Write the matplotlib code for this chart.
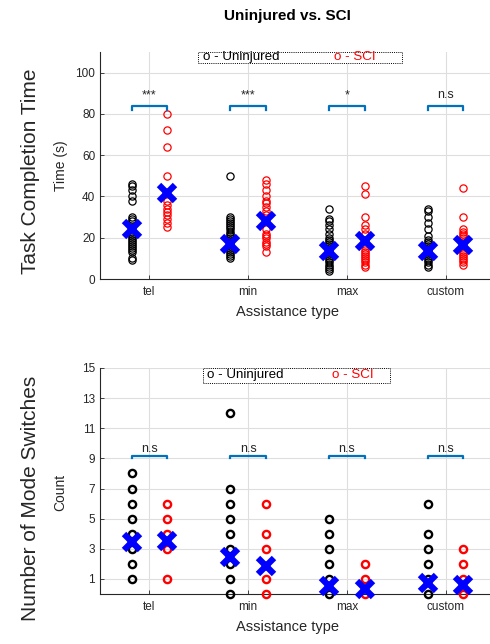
import numpy as np
import matplotlib
matplotlib.use("Agg")
import matplotlib.pyplot as plt
from matplotlib.patches import Rectangle

plt.rcParams["font.family"] = ["Liberation Sans", "DejaVu Sans"]

categories = ["tel", "min", "max", "custom"]

# task completion time (s)
time_uninjured = [
    [9, 10, 13, 14, 15, 16, 17, 18, 19, 20, 21, 22, 23, 25, 28, 29, 30, 38, 40, 43, 45, 46],
    [10, 11, 12, 13, 14, 15, 16, 17, 18, 19, 20, 21, 22, 23, 24, 25, 26, 27, 28, 29, 30, 50],
    [4, 5, 6, 7, 8, 9, 10, 11, 12, 13, 14, 15, 16, 17, 18, 19, 20, 22, 24, 26, 28, 29, 34],
    [6, 7, 8, 9, 10, 11, 12, 13, 14, 15, 16, 17, 18, 19, 21, 24, 27, 30, 33, 34],
]
time_sci = [
    [25, 27, 29, 31, 32.5, 34, 36, 38, 50, 64, 72, 80],
    [13, 16, 17, 18, 20, 21, 22, 24, 31, 33, 35, 37, 38, 40, 43, 46, 48],
    [6, 7, 8, 9, 10, 11, 12, 13, 14, 16, 19, 22, 24, 26, 30, 41, 45],
    [7, 8, 9, 10, 11, 12, 13, 14, 16, 18, 20, 21, 22, 23, 24, 30, 44],
]
time_mean_uninjured = [24.1, 17.2, 13.7, 13.5]
time_mean_sci = [41.7, 28.0, 18.4, 16.7]
time_sig = ["***", "***", "*", "n.s"]

# number of mode switches
switch_uninjured = [
    [1, 2, 3, 4, 5, 6, 7, 8],
    [0, 1, 2, 3, 4, 5, 6, 7, 12],
    [0, 1, 2, 3, 4, 5],
    [0, 1, 2, 3, 4, 6],
]
switch_sci = [
    [1, 3, 4, 5, 6],
    [0, 1, 3, 4, 6],
    [0, 1, 2],
    [0, 1, 2, 3],
]
switch_mean_uninjured = [3.45, 2.45, 0.55, 0.75]
switch_mean_sci = [3.55, 1.85, 0.3, 0.6]
switch_sig = ["n.s", "n.s", "n.s", "n.s"]

BLUE = (0.0, 0.447, 0.741)
GRID = (0.87, 0.87, 0.87)
AXC = (0.15, 0.15, 0.15)
OFF = 0.36


def _panel(ax, unj, sci, m_unj, m_sci, sig, *, ylim, yticks, br_y, br_leg, txt_y,
           circ_lw, leg_box, leg_x):
    xs = np.arange(1, len(categories) + 1)
    for i, x in enumerate(xs):
        xu, xsci = x - OFF / 2, x + OFF / 2
        ax.plot(np.full(len(unj[i]), xu), unj[i], "o", ms=5.2, mfc="none", mec="k",
                mew=circ_lw, clip_on=False, zorder=3)
        ax.plot(np.full(len(sci[i]), xsci), sci[i], "o", ms=5.2, mfc="none", mec="r",
                mew=circ_lw, clip_on=False, zorder=3)
        ax.plot([xu, xsci], [m_unj[i], m_sci[i]], "x", ms=12, mew=4.5, color="b",
                ls="none", clip_on=False, zorder=4)
        ax.plot([xu, xu, xsci, xsci], [br_y - br_leg, br_y, br_y, br_y - br_leg],
                color=BLUE, lw=1.6, zorder=3)
        ax.text(x, txt_y, sig[i], ha="center", va="center", fontsize=9, color=AXC)

    ax.set_xlim(0.5, 4.5)
    ax.set_ylim(*ylim)
    ax.set_xticks(xs)
    ax.set_xticklabels(categories)
    ax.set_yticks(yticks)
    ax.grid(True, color=GRID, lw=0.8)
    ax.set_axisbelow(True)
    ax.tick_params(direction="in", length=3, colors=AXC, labelsize=8.5, width=0.6)
    ax.tick_params(axis="x", pad=5)
    for s in ("top", "right"):
        ax.spines[s].set_visible(False)
    for s in ("left", "bottom"):
        ax.spines[s].set_color(AXC)
        ax.spines[s].set_linewidth(0.8)

    x0, y0, x1, y1 = leg_box
    ax.add_patch(Rectangle((x0, y0), x1 - x0, y1 - y0, transform=ax.transAxes,
                           facecolor="white", edgecolor="k", ls=(0, (1, 1.2)),
                           lw=0.7, zorder=5, clip_on=False))
    ym = (y0 + y1) / 2
    ax.text(leg_x[0], ym, "o - Uninjured", transform=ax.transAxes, ha="left",
            va="center", fontsize=9.6, color="k", zorder=6)
    ax.text(leg_x[1], ym, "o - SCI", transform=ax.transAxes, ha="left",
            va="center", fontsize=9.6, color="r", zorder=6)

    ax.set_xlabel("Assistance type", fontsize=10.5, color=AXC)
    ax.xaxis.set_label_coords(0.475, -0.115)


fig = plt.figure(figsize=(4.9, 6.44), dpi=100)
W, H = 490.0, 644.0
ax_l = 100 / W
ax_w = 395 / W

ax1 = fig.add_axes([ax_l, 1 - 279 / H, ax_w, 227 / H])
_panel(ax1, time_uninjured, time_sci, time_mean_uninjured, time_mean_sci, time_sig,
       ylim=(0, 110), yticks=[0, 20, 40, 60, 80, 100], br_y=84, br_leg=2, txt_y=89,
       circ_lw=0.9, leg_box=(0.248, 0.952, 0.765, 1.0), leg_x=(0.262, 0.592))
ax1.set_ylabel("Time (s)", fontsize=10, color=AXC)
ax1.yaxis.set_label_coords(-0.082, 0.5)

ax2 = fig.add_axes([ax_l, 1 - 594 / H, ax_w, 226 / H])
_panel(ax2, switch_uninjured, switch_sci, switch_mean_uninjured, switch_mean_sci, switch_sig,
       ylim=(0, 15), yticks=[1, 3, 5, 7, 9, 11, 13, 15], br_y=9.15, br_leg=0.15, txt_y=9.6,
       circ_lw=1.7, leg_box=(0.261, 0.935, 0.734, 1.0), leg_x=(0.272, 0.588))
ax2.set_ylabel("Count", fontsize=10, color=AXC)
ax2.yaxis.set_label_coords(-0.082, 0.45)

fig.text(287 / W, 1 - 16 / H, "Uninjured vs. SCI", ha="center", va="center",
         fontsize=11, fontweight="bold")
fig.text(30 / W, 1 - 171 / H, "Task Completion Time", rotation=90, ha="center",
         va="center", fontsize=15, color=AXC)
fig.text(30 / W, 1 - 498 / H, "Number of Mode Switches", rotation=90, ha="center",
         va="center", fontsize=15, color=AXC)

fig.savefig("out.png", dpi=100)
